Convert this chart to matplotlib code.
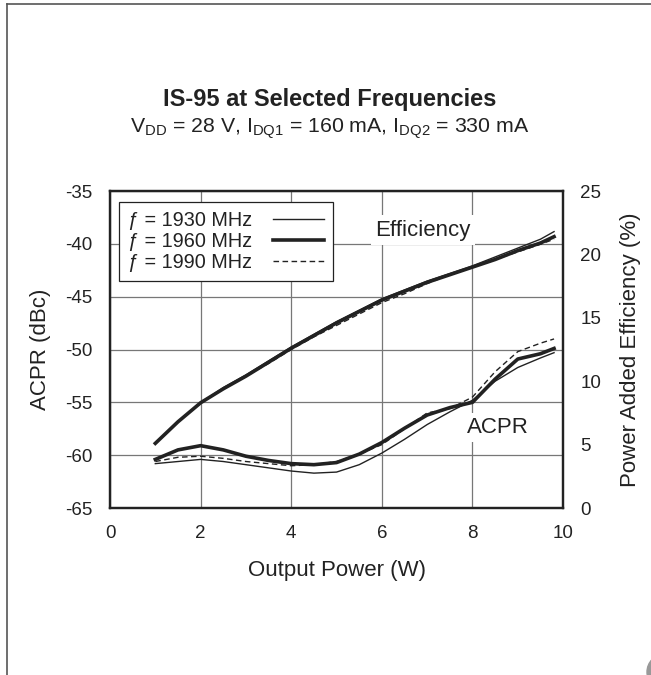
import matplotlib
matplotlib.use("Agg")
from matplotlib import pyplot as plt
from matplotlib.lines import Line2D
from matplotlib.patches import Ellipse

plt.rcParams['font.family'] = ['Liberation Sans', 'DejaVu Sans']
plt.rcParams['mathtext.fontset'] = 'custom'
plt.rcParams['mathtext.rm'] = 'Liberation Sans'
plt.rcParams['mathtext.it'] = 'Liberation Sans:italic'
plt.rcParams['axes.unicode_minus'] = False

# output power (W)
pout = [1.0, 1.5, 2.0, 2.5, 3.0, 3.5, 4.0, 4.5, 5.0, 5.5, 6.0,
        6.5, 7.0, 7.5, 8.0, 8.5, 9.0, 9.5, 9.8]

# power added efficiency (%)
eff_1930 = [5.1, 6.8, 8.3, 9.5, 10.5, 11.6, 12.7, 13.7, 14.7, 15.6, 16.5,
            17.2, 17.9, 18.5, 19.1, 19.8, 20.5, 21.2, 21.8]
eff_1960 = [5.1, 6.8, 8.3, 9.4, 10.4, 11.5, 12.6, 13.6, 14.6, 15.5, 16.4,
            17.1, 17.8, 18.4, 19.0, 19.6, 20.3, 20.9, 21.4]
eff_1990 = [5.1, 6.8, 8.3, 9.4, 10.4, 11.4, 12.5, 13.5, 14.4, 15.3, 16.2,
            16.9, 17.7, 18.4, 19.0, 19.6, 20.2, 20.8, 21.2]

# ACPR (dBc)
acpr_1930 = [-60.8, -60.6, -60.4, -60.6, -60.9, -61.2, -61.5, -61.7, -61.6, -60.9, -59.8,
             -58.5, -57.1, -55.9, -54.8, -53.0, -51.7, -50.8, -50.3]
acpr_1960 = [-60.4, -59.5, -59.1, -59.5, -60.1, -60.5, -60.8, -60.9, -60.7, -59.9, -58.8,
             -57.45, -56.2, -55.5, -55.0, -52.8, -50.9, -50.4, -49.9]
acpr_1990 = [-60.6, -60.2, -60.1, -60.3, -60.6, -60.8, -61.0, -60.9, -60.6, -59.9, -59.0,
             -57.5, -56.0, -55.6, -54.5, -52.1, -50.2, -49.4, -49.0]

labels = ['ƒ = 1930 MHz', 'ƒ = 1960 MHz', 'ƒ = 1990 MHz']

ink = '#222222'
fig = plt.figure(figsize=(6.51, 6.75), dpi=100)
ax = fig.add_axes([0.169, 0.2474, 0.696, 0.4696])
ax2 = ax.twinx()

fs = 13.5

# acpr on left axis
ax.plot(pout, acpr_1930, color=ink, lw=1.0, label=labels[0])
ax.plot(pout, acpr_1960, color=ink, lw=2.6, label=labels[1])
ax.plot(pout, acpr_1990, color=ink, lw=1.0, ls=(0, (4, 2.5)), label=labels[2])

# efficiency on right axis
ax2.plot(pout, eff_1930, color=ink, lw=1.0)
ax2.plot(pout, eff_1960, color=ink, lw=2.6)
ax2.plot(pout, eff_1990, color=ink, lw=1.0, ls=(0, (4, 2.5)))

ax.set_xlim(0, 10)
ax.set_ylim(-65, -35)
ax2.set_ylim(0, 25)
ax.set_xticks([0, 2, 4, 6, 8, 10])
ax.set_yticks([-65, -60, -55, -50, -45, -40, -35])
ax2.set_yticks([0, 5, 10, 15, 20, 25])

ax.grid(True, color='#777777', lw=0.9)
ax.set_axisbelow(True)
ax.tick_params(length=0, pad=12.5, labelsize=fs, labelcolor=ink)
ax2.tick_params(length=0, pad=12.5, labelsize=fs, labelcolor=ink)
for a in (ax, ax2):
    for s in a.spines.values():
        s.set_linewidth(1.6)
        s.set_color(ink)

ax.set_xlabel('Output Power (W)', fontsize=16, color=ink, labelpad=13)
ax.set_ylabel('ACPR (dBc)', fontsize=16, color=ink, labelpad=10)
ax2.set_ylabel('Power Added Efficiency (%)', fontsize=16, color=ink, labelpad=13)

ax.text(6.91, -38.7, 'Efficiency', fontsize=16, ha='center', va='center', color=ink,
        bbox=dict(facecolor='white', edgecolor='none', pad=3), zorder=3)
ax.text(8.55, -57.4, 'ACPR', fontsize=16, ha='center', va='center', color=ink,
        bbox=dict(facecolor='white', edgecolor='none', pad=3), zorder=3)

leg = ax.legend(loc='upper left', bbox_to_anchor=(0.02, 0.965), fontsize=14.3, markerfirst=False,
                fancybox=False, framealpha=1, edgecolor=ink, handlelength=2.56,
                borderaxespad=0, labelspacing=0.1, borderpad=0.45, handletextpad=1.05)
leg.get_frame().set_linewidth(0.9)
leg.set_zorder(5)
for t in leg.get_texts():
    t.set_color(ink)

fig.text(0.506, 0.843, 'IS-95 at Selected Frequencies', fontsize=17, fontweight='bold',
         ha='center', va='baseline', color=ink)
fig.text(0.506, 0.803, r'V$_{\rm DD}$ = 28 V, I$_{\rm DQ1}$ = 160 mA, I$_{\rm DQ2}$ = 330 mA',
         fontsize=15.3, ha='center', va='baseline', color=ink)

# page frame
fig.add_artist(Line2D([0.01, 1.0], [0.9948, 0.9948], color='#555555', lw=1.2, transform=fig.transFigure))
fig.add_artist(Line2D([0.01, 0.01], [0.0, 0.9948], color='#555555', lw=1.2, transform=fig.transFigure))
fig.add_artist(Ellipse((1.0215, 0.0044), 0.0553, 0.0533, color='#999999', transform=fig.transFigure))

fig.savefig('out.png', dpi=100)
